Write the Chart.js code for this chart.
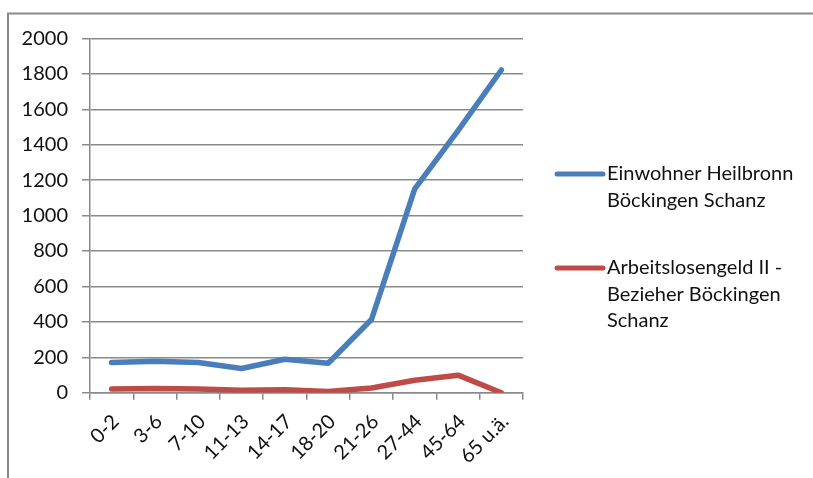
<!DOCTYPE html>
<html>
<head>
<meta charset="utf-8">
<script src="https://cdn.jsdelivr.net/npm/chart.js@4.4.0/dist/chart.umd.min.js"></script>
<style>
  html, body { margin: 0; padding: 0; background: #fff; }
  canvas { display: block; }
</style>
</head>
<body>
<canvas id="altersChart" width="813" height="478"></canvas>
<script>
const ageGroups = ['0-2', '3-6', '7-10', '11-13', '14-17', '18-20', '21-26', '27-44', '45-64', '65 u.ä.'];
const einwohner = [170, 177, 170, 137, 189, 166, 413, 1151, 1480, 1822];
const alg2Bezieher = [21, 24, 21, 14, 17, 7, 27, 70, 99, 0];
const einwohnerName = ['Einwohner Heilbronn', 'Böckingen Schanz'];
const alg2Name = ['Arbeitslosengeld II -', 'Bezieher Böckingen', 'Schanz'];

const FONT = 'Lato, "Open Sans", sans-serif';
const GRID = '#8a8a8a';
const TEXT = '#111';

// grauer Rahmen oben und links
const framePlugin = {
    id: 'frame',
    beforeDraw(chart) {
        const ctx = chart.ctx;
        ctx.save();
        ctx.fillStyle = '#fff';
        ctx.fillRect(0, 0, chart.width, chart.height);
        ctx.strokeStyle = GRID;
        ctx.lineWidth = 2;
        ctx.beginPath();
        ctx.moveTo(8, chart.height);
        ctx.lineTo(8, 13.5);
        ctx.lineTo(chart.width, 13.5);
        ctx.stroke();
        ctx.restore();
    }
};

// Legende rechts mit umbrochenen Texten
const sideLegend = {
    id: 'sideLegend',
    afterDraw(chart) {
        const ctx = chart.ctx;
        const x0 = chart.chartArea.right + 34;
        const lineH = 26.5;
        let y = 174;
        ctx.save();
        ctx.font = '20px ' + FONT;
        ctx.textBaseline = 'middle';
        ctx.fillStyle = TEXT;
        chart.data.datasets.forEach(ds => {
            ctx.strokeStyle = ds.borderColor;
            ctx.lineWidth = 5;
            ctx.lineCap = 'round';
            ctx.beginPath();
            ctx.moveTo(x0, y);
            ctx.lineTo(x0 + 46, y);
            ctx.stroke();
            ds.legendLines.forEach((t, i) => {
                ctx.fillText(t, x0 + 50, y + i * lineH);
            });
            y += ds.legendLines.length * lineH + 41;
        });
        ctx.restore();
    }
};

new Chart(document.getElementById('altersChart'), {
    type: 'line',
    data: {
        labels: ageGroups,
        datasets: [{
            label: einwohnerName.join(' '),
            legendLines: einwohnerName,
            data: einwohner,
            borderColor: '#4a7ebb',
            borderWidth: 5.5,
            borderJoinStyle: 'round',
            borderCapStyle: 'round',
            pointRadius: 0,
            tension: 0
        }, {
            label: alg2Name.join(' '),
            legendLines: alg2Name,
            data: alg2Bezieher,
            borderColor: '#be4b48',
            borderWidth: 5.5,
            borderJoinStyle: 'round',
            borderCapStyle: 'round',
            pointRadius: 0,
            tension: 0
        }]
    },
    options: {
        responsive: false,
        animation: false,
        layout: { padding: { left: 0, right: 290, top: 38.5, bottom: 0 } },
        plugins: {
            legend: { display: false },
            tooltip: { enabled: false }
        },
        scales: {
            x: {
                offset: true,
                grid: {
                    offset: true,
                    drawOnChartArea: false,
                    drawTicks: true,
                    tickLength: 7,
                    color: GRID,
                    lineWidth: 1.5
                },
                border: { color: GRID, width: 1.5 },
                ticks: {
                    autoSkip: false,
                    minRotation: 45,
                    maxRotation: 45,
                    padding: 10,
                    labelOffset: 4,
                    color: TEXT,
                    font: { family: FONT, size: 20 }
                },
                afterFit(scale) { scale.height = 85.3; }
            },
            y: {
                min: 0,
                max: 2000,
                grid: {
                    color: GRID,
                    lineWidth: 1.5,
                    tickLength: 8
                },
                border: { color: GRID, width: 1.5 },
                ticks: {
                    stepSize: 200,
                    padding: 14,
                    color: TEXT,
                    font: { family: FONT, size: 20 },
                    callback: value => String(value)
                },
                afterFit(scale) { scale.width = 90; }
            }
        }
    },
    plugins: [framePlugin, sideLegend]
});
</script>
</body>
</html>
